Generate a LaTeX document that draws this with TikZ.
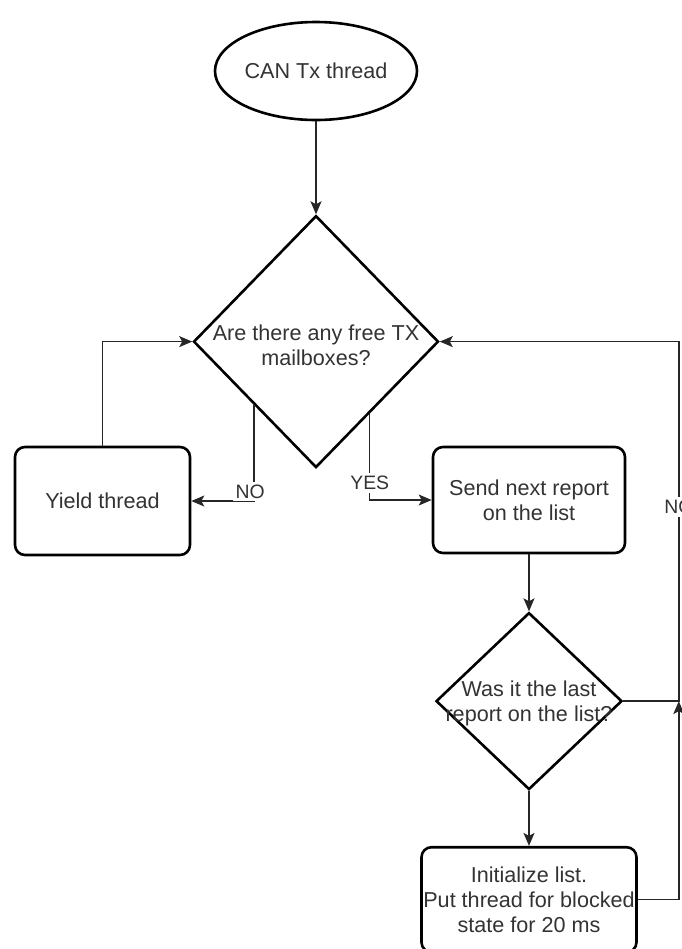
\documentclass[tikz,border=0pt]{standalone}
\usepackage{fontspec}
\setmainfont{Liberation Sans}
\usetikzlibrary{shapes.geometric, arrows.meta, positioning, calc}

\begin{document}
\begin{tikzpicture}[x=0.5pt, y=-0.5pt, font=\fontsize{10.8}{12.5}\selectfont, text=black!80,
  block/.style={draw=black, line width=1.3pt, rounded corners=5pt, align=center, inner sep=0pt},
  decision/.style={draw=black, diamond, line width=1.3pt, inner sep=0pt},
  flow/.style={draw=black!85, -{Stealth[length=6.5pt, width=5.5pt, inset=1.5pt]}, line width=0.7pt},
  edgelabel/.style={fill=white, inner sep=1.5pt, font=\fontsize{9.7}{11}\selectfont}]
\useasboundingbox (0,0) rectangle (681,949);

\node[draw=black, ellipse, line width=1.3pt, minimum width=94pt, minimum height=49pt, inner sep=0pt] (start) at (316,71) {CAN Tx thread};

\node[decision, minimum width=122.5pt, minimum height=126pt, below=46.5pt of start] (freebox) {};
\node[align=center, yshift=-2pt] (freetxt) at (freebox.center) {Are there any free TX\\mailboxes?};

\node[block, minimum width=87.5pt, minimum height=54pt] (yield) at (102.5,501) {Yield thread};

\node[block, minimum width=96pt, minimum height=53pt] (send) at (529,500) {Send next report\\on the list};

\node[decision, minimum width=93pt, minimum height=88.5pt, below=28.5pt of send] (lastrep) {};
\node[align=center, yshift=-1pt] (lasttxt) at (lastrep.center) {Was it the last\\report on the list?};

\node[block, minimum width=107.5pt, minimum height=52.5pt, below=27.5pt of lastrep] (init) {Initialize list.\\Put thread for blocked\\state for 20 ms};

\coordinate (yesfork) at ($(freebox.south)!0.434!(freebox.east)$);
\coordinate (rtop) at ($(freebox.east)+(239,0)$);
\coordinate (rjoin) at (rtop |- lastrep.east);

\draw[flow] (start.south) -- (freebox.north);
\draw[flow] (freebox.south west) |- node[edgelabel, pos=0.45, xshift=-2pt] (nolbl) {NO} (yield.east);
\draw[flow] (yesfork) |- node[edgelabel, pos=0.4] (yeslbl) {YES} (send.west);
\draw[flow] (yield.north) |- (freebox.west);
\draw[flow] (send.south) -- (lastrep.north);
\draw[flow] (lastrep.south) -- (init.north);
\draw[flow] (lastrep.east) -| node[edgelabel, pos=0.77] (nolbl2) {NO} (rtop) -- (freebox.east);
\draw[flow] (init.east) -| (rjoin);
\end{tikzpicture}
\end{document}
